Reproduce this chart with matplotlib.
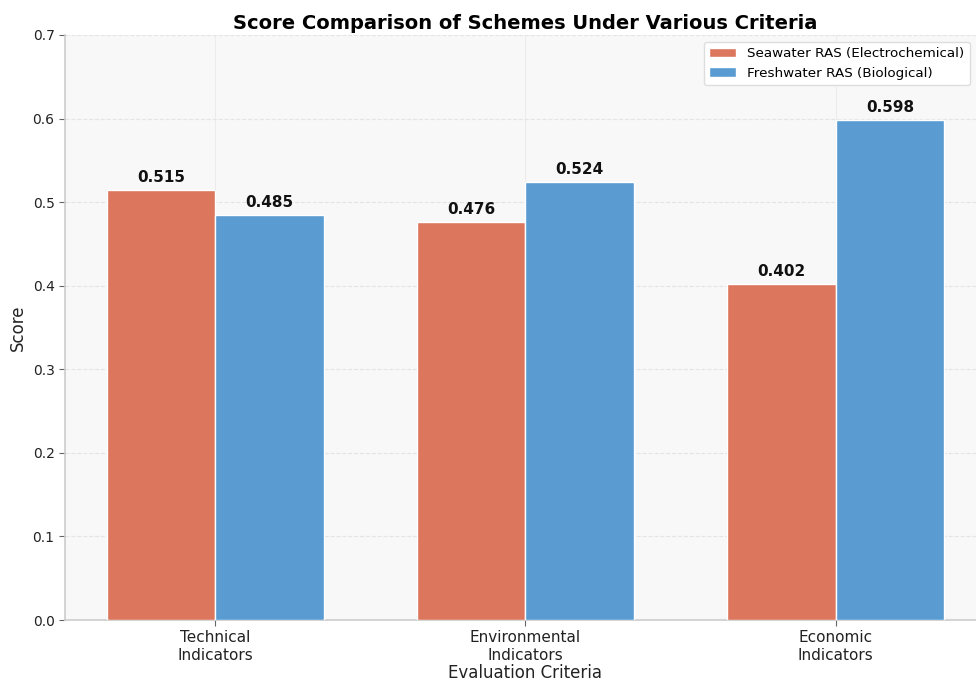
import numpy as np
import matplotlib
matplotlib.use("Agg")
import matplotlib.pyplot as plt

criteria = ["Technical\nIndicators", "Environmental\nIndicators", "Economic\nIndicators"]
seawater = [0.515, 0.476, 0.402]
freshwater = [0.485, 0.524, 0.598]
series_names = ["Seawater RAS (Electrochemical)", "Freshwater RAS (Biological)"]

red = "#DC765D"
blue = "#5A9BD2"

fig = plt.figure(figsize=(9.76, 6.83), dpi=100)
ax = fig.add_axes([0.0666, 0.0922, 0.9436, 0.8566])
ax.set_facecolor("#f8f8f8")

x = np.arange(len(criteria))
w = 0.35
b1 = ax.bar(x - w / 2, seawater, w, color=red, edgecolor="white", linewidth=1, label=series_names[0], zorder=3)
b2 = ax.bar(x + w / 2, freshwater, w, color=blue, edgecolor="white", linewidth=1, label=series_names[1], zorder=3)

for bars, vals in ((b1, seawater), (b2, freshwater)):
    for rect, v in zip(bars, vals):
        ax.text(rect.get_x() + rect.get_width() / 2, v + 0.006, f"{v:.3f}",
                ha="center", va="bottom", fontsize=11, fontweight="bold", color="#111111")

ax.set_ylim(0, 0.7)
ax.set_xticks(x)
ax.tick_params(colors="#666666", length=4)
ax.set_xticklabels(criteria, fontsize=11)
ax.tick_params(axis="x", labelcolor="#222222")
ax.tick_params(axis="y", labelsize=10, labelcolor="#222222")
ax.set_xlabel("Evaluation Criteria", fontsize=12, color="#222222", labelpad=1)
ax.set_ylabel("Score", fontsize=12, color="#222222")
ax.set_title("Score Comparison of Schemes Under Various Criteria", fontsize=14, fontweight="bold", pad=4)

ax.grid(axis="y", linestyle="--", color="#e4e4e4", linewidth=0.8, zorder=0)
ax.grid(axis="x", linestyle="-", color="#ececec", linewidth=0.8, zorder=0)
for s in ("top", "right"):
    ax.spines[s].set_visible(False)
for s in ("left", "bottom"):
    ax.spines[s].set_color("#cccccc")
    ax.spines[s].set_linewidth(1.2)

ax.legend(loc="upper right", bbox_to_anchor=(0.9898, 1.0), fontsize=9.7, frameon=True,
          framealpha=1, edgecolor="#dddddd", facecolor="white")

fig.savefig("out.png", dpi=100)
